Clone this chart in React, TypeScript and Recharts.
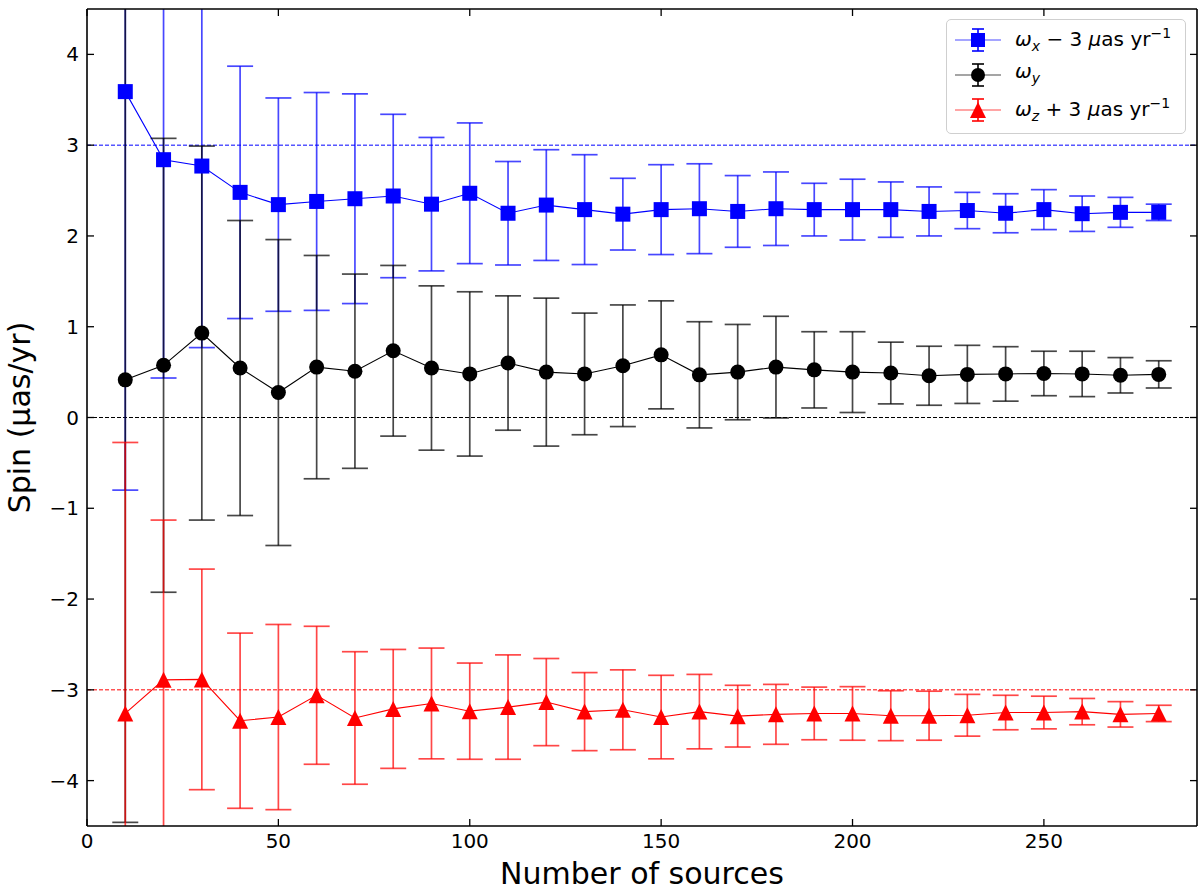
import React from "react";
import {
  ComposedChart,
  Line,
  XAxis,
  YAxis,
  ErrorBar,
  ReferenceLine,
} from "recharts";

const sources = [
  10, 20, 30, 40, 50, 60, 70, 80, 90, 100, 110, 120, 130, 140, 150, 160, 170,
  180, 190, 200, 210, 220, 230, 240, 250, 260, 270, 280,
];

// omega_x shifted by -3
const omegaX = [
  3.59, 2.84, 2.77, 2.48, 2.345, 2.38, 2.41, 2.44, 2.35, 2.47, 2.25, 2.34, 2.29,
  2.24, 2.29, 2.3, 2.27, 2.3, 2.29, 2.29, 2.29, 2.27, 2.28, 2.25, 2.29, 2.245,
  2.26, 2.26,
];
const omegaXErr = [
  4.39, 2.405, 2.0, 1.39, 1.175, 1.2, 1.155, 0.9, 0.735, 0.775, 0.57, 0.61,
  0.605, 0.395, 0.495, 0.495, 0.395, 0.405, 0.29, 0.335, 0.305, 0.27, 0.2,
  0.215, 0.22, 0.195, 0.165, 0.09,
];

const omegaY = [
  0.415, 0.575, 0.93, 0.545, 0.275, 0.555, 0.51, 0.735, 0.545, 0.48, 0.6, 0.5,
  0.48, 0.57, 0.69, 0.47, 0.5, 0.555, 0.525, 0.5, 0.49, 0.46, 0.475, 0.48,
  0.485, 0.48, 0.465, 0.475,
];
const omegaYErr = [
  4.875, 2.5, 2.06, 1.625, 1.685, 1.23, 1.07, 0.94, 0.905, 0.905, 0.74, 0.815,
  0.67, 0.67, 0.595, 0.585, 0.525, 0.56, 0.42, 0.445, 0.34, 0.325, 0.32, 0.3,
  0.245, 0.25, 0.195, 0.15,
];

// omega_z shifted by +3
const omegaZ = [
  -3.26, -2.89, -2.885, -3.34, -3.3, -3.06, -3.31, -3.21, -3.15, -3.235, -3.19,
  -3.135, -3.24, -3.22, -3.3, -3.24, -3.29, -3.27, -3.26, -3.26, -3.285,
  -3.285, -3.28, -3.25, -3.25, -3.24, -3.27, -3.26,
];
const omegaZErr = [
  2.985, 1.76, 1.215, 0.965, 1.02, 0.76, 0.73, 0.655, 0.61, 0.53, 0.575, 0.48,
  0.43, 0.44, 0.46, 0.41, 0.34, 0.33, 0.29, 0.295, 0.275, 0.27, 0.23, 0.19,
  0.18, 0.145, 0.14, 0.09,
];

const xTicks = [0, 50, 100, 150, 200, 250];
const yTicks = [-4, -3, -2, -1, 0, 1, 2, 3, 4];

const data = sources.map((n, i) => ({
  n,
  wx: omegaX[i],
  wxErr: omegaXErr[i],
  wy: omegaY[i],
  wyErr: omegaYErr[i],
  wz: omegaZ[i],
  wzErr: omegaZErr[i],
}));

const BLUE = "#0000ff";
const RED = "#ff0000";
const FONT = "'DejaVu Sans', sans-serif";

// plot box (chart margins + axis sizes)
const M = { top: 8, right: 2, bottom: 10, left: 7 };
const Y_AXIS_W = 80;
const X_AXIS_H = 60;
const W = 1200;
const H = 896;
const PLOT = {
  x: M.left + Y_AXIS_W,
  y: M.top + 1,
  w: W - M.left - Y_AXIS_W - M.right - 1,
  h: H - M.top - 1 - M.bottom - X_AXIS_H,
};

const minus = (v: number) => (v < 0 ? `\u2212${Math.abs(v)}` : `${v}`);

const squareDot = (p: any) => {
  const { cx, cy, index } = p;
  if (cx == null || cy == null) return <g key={`s${index}`} />;
  return (
    <rect key={`s${index}`} x={cx - 7.5} y={cy - 7.5} width={15} height={15} fill={BLUE} />
  );
};

const circleDot = (p: any) => {
  const { cx, cy, index } = p;
  if (cx == null || cy == null) return <g key={`c${index}`} />;
  return <circle key={`c${index}`} cx={cx} cy={cy} r={7.5} fill="#000" />;
};

const triangleDot = (p: any) => {
  const { cx, cy, index } = p;
  if (cx == null || cy == null) return <g key={`t${index}`} />;
  return (
    <path
      key={`t${index}`}
      d={`M${cx},${cy - 8} L${cx - 8},${cy + 8} L${cx + 8},${cy + 8} Z`}
      fill={RED}
    />
  );
};

function LegendIcon({ color, shape }: { color: string; shape: string }) {
  return (
    <svg width={46} height={30} style={{ display: "block" }}>
      <line x1={0} y1={15} x2={46} y2={15} stroke={color} strokeOpacity={0.7} strokeWidth={1.2} />
      <line x1={23} y1={4} x2={23} y2={26} stroke={color} strokeWidth={1.6} />
      <line x1={17} y1={4} x2={29} y2={4} stroke={color} strokeWidth={1.6} />
      <line x1={17} y1={26} x2={29} y2={26} stroke={color} strokeWidth={1.6} />
      {shape === "square" && <rect x={16} y={8} width={14} height={14} fill={color} />}
      {shape === "circle" && <circle cx={23} cy={15} r={7} fill={color} />}
      {shape === "triangle" && <path d="M23,7 L15,23 L31,23 Z" fill={color} />}
    </svg>
  );
}

const rowStyle: React.CSSProperties = {
  display: "flex",
  alignItems: "center",
  height: 35,
};

function LegendBox() {
  const text: React.CSSProperties = {
    marginLeft: 14,
    fontSize: 20,
    fontFamily: FONT,
    color: "#000",
    whiteSpace: "nowrap",
    lineHeight: "20px",
  };
  const sub: React.CSSProperties = { fontSize: 14 };
  return (
    <div
      style={{
        position: "absolute",
        left: 946,
        top: 19,
        width: 222,
        border: "1px solid #cfcfcf",
        borderRadius: 5,
        background: "rgba(255,255,255,0.85)",
        padding: "2px 8px 6px 8px",
      }}
    >
      <div style={rowStyle}>
        <LegendIcon color={BLUE} shape="square" />
        <span style={text}>
          <i>ω</i>
          <sub style={sub}>
            <i>x</i>
          </sub>{" "}
          − 3 <i>μ</i>as yr<sup style={sub}>−1</sup>
        </span>
      </div>
      <div style={rowStyle}>
        <LegendIcon color="#000" shape="circle" />
        <span style={text}>
          <i>ω</i>
          <sub style={sub}>
            <i>y</i>
          </sub>
        </span>
      </div>
      <div style={rowStyle}>
        <LegendIcon color={RED} shape="triangle" />
        <span style={text}>
          <i>ω</i>
          <sub style={sub}>
            <i>z</i>
          </sub>{" "}
          + 3 <i>μ</i>as yr<sup style={sub}>−1</sup>
        </span>
      </div>
    </div>
  );
}

export default function App() {
  const tickStyle = { fill: "#000", fontSize: 20, fontFamily: FONT };
  const axisLine = { stroke: "#000", strokeWidth: 1.6 };
  const tickLine = { stroke: "#000", strokeWidth: 1.3 };
  return (
    <div
      style={{
        position: "absolute",
        left: 0,
        top: 0,
        width: W,
        height: H,
        background: "#fff",
      }}
    >
      <style>{`.recharts-errorBars, .recharts-errorBar { clip-path: url(#plotClip); }`}</style>
      <svg width={0} height={0} style={{ position: "absolute" }}>
        <defs>
          <clipPath id="plotClip">
            <rect x={PLOT.x} y={PLOT.y} width={PLOT.w} height={PLOT.h} />
          </clipPath>
        </defs>
      </svg>
      <ComposedChart
        width={W}
        height={H}
        data={data}
        margin={M}
        style={{ fontFamily: FONT }}
      >
        <XAxis
          dataKey="n"
          type="number"
          domain={[0, 290]}
          ticks={xTicks}
          allowDataOverflow
          height={X_AXIS_H}
          tick={tickStyle}
          tickSize={-7}
          tickMargin={15}
          axisLine={axisLine}
          tickLine={tickLine}
          label={{
            value: "Number of sources",
            position: "insideBottom",
            offset: 2,
            fontSize: 30,
            fill: "#000",
            fontFamily: FONT,
          }}
        />
        <XAxis
          xAxisId="top"
          orientation="top"
          type="number"
          dataKey="n"
          domain={[0, 290]}
          ticks={xTicks}
          allowDataOverflow
          height={1}
          tickSize={-7}
          tickFormatter={() => ""}
          axisLine={axisLine}
          tickLine={tickLine}
        />
        <YAxis
          type="number"
          domain={[-4.5, 4.5]}
          ticks={yTicks}
          allowDataOverflow
          width={Y_AXIS_W}
          tick={tickStyle}
          tickSize={-7}
          tickMargin={15}
          tickFormatter={minus}
          axisLine={axisLine}
          tickLine={tickLine}
          label={{
            value: "Spin (μas/yr)",
            angle: -90,
            position: "insideLeft",
            offset: 12,
            fontSize: 30,
            fill: "#000",
            fontFamily: FONT,
            style: { textAnchor: "middle" },
          }}
        />
        <YAxis
          yAxisId="right"
          orientation="right"
          type="number"
          domain={[-4.5, 4.5]}
          ticks={yTicks}
          allowDataOverflow
          width={1}
          tickSize={-7}
          tickFormatter={() => ""}
          axisLine={axisLine}
          tickLine={tickLine}
        />
        <ReferenceLine y={3} stroke={BLUE} strokeWidth={1} strokeDasharray="4 2" />
        <ReferenceLine y={0} stroke="#000" strokeWidth={1} strokeDasharray="4 2" />
        <ReferenceLine y={-3} stroke={RED} strokeWidth={1} strokeDasharray="4 2" />
        <Line
          dataKey="wx"
          stroke={BLUE}
          strokeWidth={1.1}
          dot={squareDot}
          activeDot={false}
          isAnimationActive={false}
        >
          <ErrorBar
            dataKey="wxErr"
            direction="y"
            width={13}
            stroke="rgba(0,0,255,0.72)"
            strokeWidth={1.7}
          />
        </Line>
        <Line
          dataKey="wy"
          stroke="#000"
          strokeWidth={1.1}
          dot={circleDot}
          activeDot={false}
          isAnimationActive={false}
        >
          <ErrorBar
            dataKey="wyErr"
            direction="y"
            width={13}
            stroke="rgba(0,0,0,0.72)"
            strokeWidth={1.7}
          />
        </Line>
        <Line
          dataKey="wz"
          stroke={RED}
          strokeWidth={1.1}
          dot={triangleDot}
          activeDot={false}
          isAnimationActive={false}
        >
          <ErrorBar
            dataKey="wzErr"
            direction="y"
            width={13}
            stroke="rgba(255,0,0,0.72)"
            strokeWidth={1.7}
          />
        </Line>
      </ComposedChart>
      <LegendBox />
    </div>
  );
}
